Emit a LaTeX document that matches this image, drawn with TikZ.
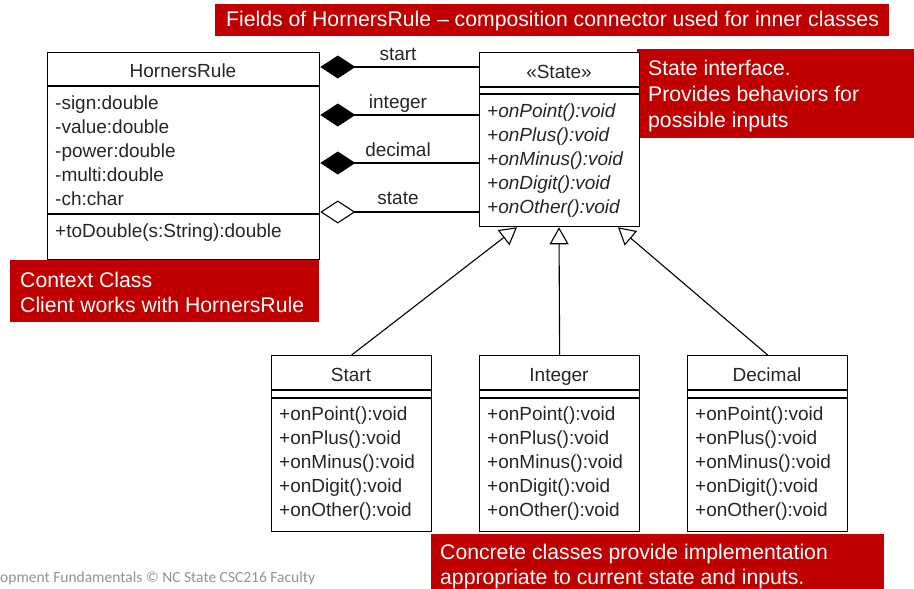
\documentclass[tikz,border=0pt]{standalone}
\usepackage{fontspec}
\setmainfont{Liberation Sans}
\newfontfamily\footfont{Carlito}
\usetikzlibrary{arrows.meta}
\definecolor{ncred}{HTML}{C00000}
\definecolor{umltext}{HTML}{262626}
\tikzset{
  umlbox/.style={draw=black, line width=1.3pt, fill=white, inner sep=0pt, anchor=north west},
  umlline/.style={line width=1.1pt},
  umltxt/.style={anchor=base west, inner sep=0pt, text=umltext, font=\fontsize{19}{22}\selectfont},
  umltitle/.style={anchor=base, inner sep=0pt, text=umltext, font=\fontsize{19}{22}\selectfont},
  note/.style={fill=ncred, anchor=north west, inner sep=0pt},
  notetxt/.style={anchor=base west, inner sep=0pt, text=white, font=\fontsize{21.2}{24}\selectfont},
  comp/.style={line width=1.1pt, -{Diamond[length=35pt,width=23pt,line width=1.1pt]}},
  aggr/.style={line width=1.1pt, -{Diamond[open,fill=white,length=35pt,width=23pt,line width=1.1pt]}},
  inh/.style={line width=1.1pt, -{Triangle[open,fill=white,length=17pt,width=19pt,line width=1.1pt]}},
  rolelbl/.style={anchor=base, inner sep=0pt, text=umltext, font=\fontsize{19}{22}\selectfont}
}
\begin{document}
\begin{tikzpicture}[x=1pt,y=-1pt]
\useasboundingbox[fill=white] (0,0) rectangle (914,589);

% red notes
\node[note, minimum width=674pt, minimum height=32pt] (n1) at (215,4) {};
\node[notetxt] (n1t) at (226,26) {Fields of HornersRule -- composition connector used for inner classes};
\node[note, minimum width=277pt, minimum height=89pt] (n2) at (637,49) {};
\node[notetxt] (n2a) at (648,75) {State interface.};
\node[notetxt] (n2b) at (648,101) {Provides behaviors for};
\node[notetxt] (n2c) at (648,127) {possible inputs};
\node[note, minimum width=309pt, minimum height=62pt] (n3) at (10,260) {};
\node[notetxt] (n3a) at (20,287) {Context Class};
\node[notetxt] (n3b) at (20,312) {Client works with HornersRule};
\node[note, minimum width=453pt, minimum height=56pt] (n4) at (431,534) {};
\node[notetxt] (n4a) at (440,559) {Concrete classes provide implementation};
\node[notetxt] (n4b) at (440,584) {appropriate to current state and inputs.};

% footer
\node[anchor=base west, inner sep=0pt, text=gray!85, font=\footfont\fontsize{15.5}{17}\selectfont] (foot) at (0,582) {opment Fundamentals \textcopyright{} NC State CSC216 Faculty};

% HornersRule
\node[umlbox, minimum width=272pt, minimum height=207pt] (hr) at (47,52) {};
\draw[umlline] (47,86) -- (319,86);
\draw[umlline] (47,214) -- (319,214);
\node[umltitle] (hrt) at (183,77) {HornersRule};
\node[umltxt] (h1) at (55,109) {-sign:double};
\node[umltxt] (h2) at (55,133) {-value:double};
\node[umltxt] (h3) at (55,157) {-power:double};
\node[umltxt] (h4) at (55,181) {-multi:double};
\node[umltxt] (h5) at (55,205) {-ch:char};
\node[umltxt] (h6) at (55,237) {+toDouble(s:String):double};

% State
\node[umlbox, minimum width=160pt, minimum height=174pt] (st) at (479,52) {};
\draw[umlline] (479,87) -- (639,87);
\draw[umlline] (479,94) -- (639,94);
\node[umltitle] (stt) at (559,78) {\guillemotleft State\guillemotright};
\node[umltxt, font=\fontsize{19}{22}\selectfont\itshape] (s1) at (487,117) {+onPoint():void};
\node[umltxt, font=\fontsize{19}{22}\selectfont\itshape] (s2) at (487,141) {+onPlus():void};
\node[umltxt, font=\fontsize{19}{22}\selectfont\itshape] (s3) at (487,165) {+onMinus():void};
\node[umltxt, font=\fontsize{19}{22}\selectfont\itshape] (s4) at (487,189) {+onDigit():void};
\node[umltxt, font=\fontsize{19}{22}\selectfont\itshape] (s5) at (487,213) {+onOther():void};

% concrete classes
\foreach \nm/\lbl/\x in {cs/Start/271, ci/Integer/479, cd/Decimal/687}{
  \node[umlbox, minimum width=160pt, minimum height=176pt] (\nm) at (\x,355) {};
  \draw[umlline] (\x,390) -- ++(160,0);
  \draw[umlline] (\x,398) -- ++(160,0);
  \node[umltitle] (\nm t) at (\x+80,381) {\lbl};
  \node[umltxt] (\nm 1) at (\x+8,420) {+onPoint():void};
  \node[umltxt] (\nm 2) at (\x+8,444) {+onPlus():void};
  \node[umltxt] (\nm 3) at (\x+8,468) {+onMinus():void};
  \node[umltxt] (\nm 4) at (\x+8,492) {+onDigit():void};
  \node[umltxt] (\nm 5) at (\x+8,516) {+onOther():void};
}

% associations
\draw[comp] (st.west |- 0,67) -- (hr.east |- 0,67);
\draw[comp] (st.west |- 0,115) -- (hr.east |- 0,115);
\draw[comp] (st.west |- 0,163) -- (hr.east |- 0,163);
\draw[aggr] (st.west |- 0,212) -- (hr.east |- 0,212);
\node[rolelbl] (r1) at (398,60) {start};
\node[rolelbl] (r2) at (398,108) {integer};
\node[rolelbl] (r3) at (398,156) {decimal};
\node[rolelbl] (r4) at (398,204) {state};

% generalizations
\coordinate (g1) at (st.south -| 517,0);
\coordinate (g2) at (st.south -| 559,0);
\coordinate (g3) at (st.south -| 618,0);
\draw[inh] (cs.north) -- (g1);
\draw[inh] (ci.north) -- (g2);
\draw[inh] (cd.north) -- (g3);
\end{tikzpicture}
\end{document}
